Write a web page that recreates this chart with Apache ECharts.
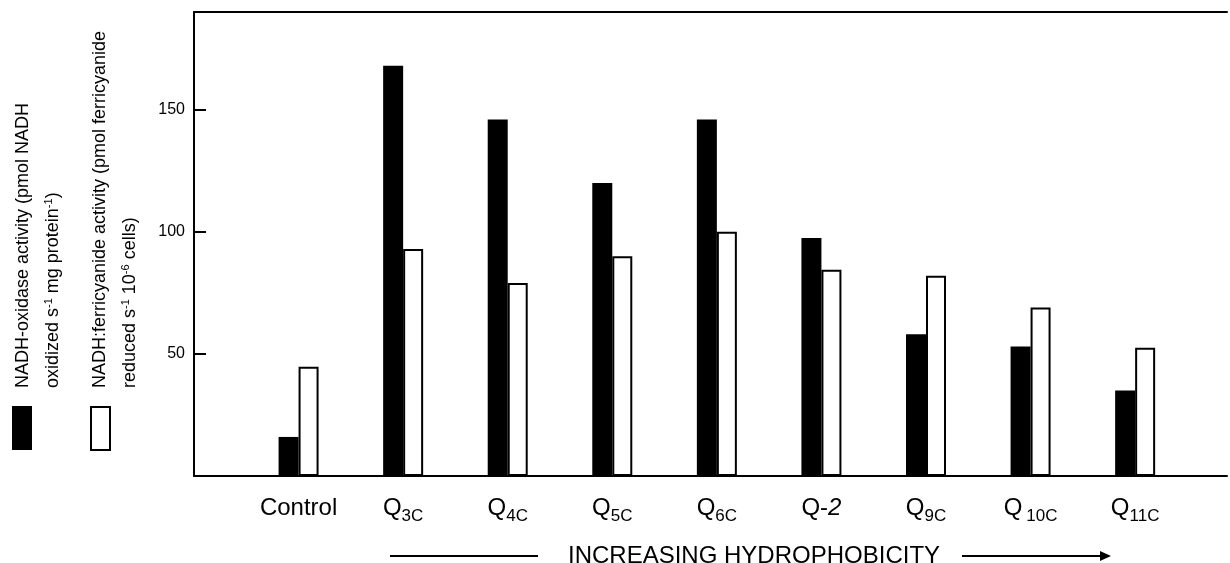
<!DOCTYPE html>
<html>
<head>
<meta charset="utf-8">
<script src="https://cdn.jsdelivr.net/npm/echarts@6/dist/echarts.min.js"></script>
<style>
html,body{margin:0;padding:0;background:#fff;}
#c{width:1230px;height:563px;}
</style>
</head>
<body>
<div id="c"></div>
<script>
// ---- data ----
var categories = ['Control', 'Q3C', 'Q4C', 'Q5C', 'Q6C', 'Q-2', 'Q9C', 'Q10C', 'Q11C'];
var oxidase = [16, 168, 146, 120, 146, 97.5, 58, 53, 35];       // NADH-oxidase activity
var ferricyanide = [44.7, 93, 79, 90, 100, 84.5, 82, 69, 52.5]; // NADH:ferricyanide activity
var yTicks = [50, 100, 150];

var FONT = '"Liberation Sans", Arial, Helvetica, sans-serif';

function catLabel(name) {
  if (name === 'Q-2') return '{m|Q-}{it|2}';
  if (name === 'Q10C') return '{m|Q}{sw|10C}';
  var m = /^Q(\d+C)$/.exec(name);
  if (m) return '{m|Q}{s|' + m[1] + '}';
  return '{m|' + name + '}';
}

var xMax = (1230 - 194) / 104.875;

var chart = echarts.init(document.getElementById('c'));
chart.setOption({
  animation: false,
  backgroundColor: '#fff',
  grid: { left: 194, right: 0, top: 12, bottom: 87, containLabel: false },
  xAxis: [{
    type: 'value',
    min: 0, max: xMax, interval: 1,
    position: 'bottom',
    axisLine: { show: true, lineStyle: { color: '#000', width: 2 } },
    axisTick: { show: false },
    splitLine: { show: false },
    axisLabel: {
      show: true,
      margin: 20,
      verticalAlign: 'top',
      showMinLabel: true, showMaxLabel: true,
      formatter: function (v) {
        var i = Math.round(v) - 1;
        if (Math.abs(v - Math.round(v)) > 1e-6 || i < 0 || i >= categories.length) return '';
        return catLabel(categories[i]);
      },
      rich: {
        m: { fontFamily: FONT, fontSize: 24, color: '#000', lineHeight: 24, verticalAlign: 'top' },
        it: { fontFamily: FONT, fontSize: 24, fontStyle: 'italic', color: '#000', lineHeight: 24, verticalAlign: 'top' },
        s: { fontFamily: FONT, fontSize: 17, color: '#000', lineHeight: 17, verticalAlign: 'top', padding: [12, 0, 0, 0] },
        sw: { fontFamily: FONT, fontSize: 17, color: '#000', lineHeight: 17, verticalAlign: 'top', padding: [12, 0, 0, 4] }
      }
    }
  }, {
    type: 'value',
    min: 0, max: xMax,
    position: 'top',
    axisLine: { show: true, lineStyle: { color: '#000', width: 2 } },
    axisTick: { show: false },
    axisLabel: { show: false },
    splitLine: { show: false }
  }],
  yAxis: {
    type: 'value',
    min: 0, max: 190, interval: 50,
    axisLine: { show: true, lineStyle: { color: '#000', width: 2 } },
    axisTick: { show: true, inside: true, length: 12, lineStyle: { color: '#000', width: 2 }, customValues: yTicks },
    splitLine: { show: false },
    axisLabel: {
      margin: 9,
      color: '#000',
      fontFamily: FONT,
      fontSize: 16,
      customValues: yTicks,
      formatter: function (v) { return yTicks.indexOf(v) >= 0 ? String(v) : ''; }
    }
  },
  series: [{
    name: 'NADH-oxidase activity',
    type: 'bar',
    xAxisIndex: 0,
    barWidth: 20,
    barGap: '0%',
    itemStyle: { color: '#000' },
    data: oxidase.map(function (v, i) { return [i + 1, v]; })
  }, {
    name: 'NADH:ferricyanide activity',
    type: 'bar',
    xAxisIndex: 0,
    barWidth: 20,
    barGap: '0%',
    itemStyle: { color: '#fff', borderColor: '#000', borderWidth: 2 },
    data: ferricyanide.map(function (v, i) { return [i + 1, v]; })
  }],
  graphic: [
    { type: 'rect', shape: { x: 12, y: 406, width: 20, height: 44 }, style: { fill: '#000' } },
    { type: 'rect', shape: { x: 91, y: 407, width: 19, height: 43 }, style: { fill: '#fff', stroke: '#000', lineWidth: 2 } },
    {
      type: 'text', x: 38, y: 388, rotation: Math.PI / 2,
      style: {
        text: 'NADH-oxidase activity (pmol NADH\noxidized s{sup|-1} mg protein{sup|-1})',
        font: '18px ' + FONT, fill: '#000', align: 'left', verticalAlign: 'middle', lineHeight: 30,
        rich: { sup: { fontFamily: FONT, fontSize: 11, fill: '#000', verticalAlign: 'top', lineHeight: 11, padding: [5, 0, 0, 0] } }
      }
    },
    {
      type: 'text', x: 115, y: 388, rotation: Math.PI / 2,
      style: {
        text: 'NADH:ferricyanide activity (pmol ferricyanide\nreduced s{sup|-1} 10{sup|-6} cells)',
        font: '18px ' + FONT, fill: '#000', align: 'left', verticalAlign: 'middle', lineHeight: 30,
        rich: { sup: { fontFamily: FONT, fontSize: 11, fill: '#000', verticalAlign: 'top', lineHeight: 11, padding: [5, 0, 0, 0] } }
      }
    },
    { type: 'line', shape: { x1: 390, y1: 556, x2: 538, y2: 556 }, style: { stroke: '#000', lineWidth: 2 } },
    {
      type: 'text', x: 568, y: 556,
      style: { text: 'INCREASING HYDROPHOBICITY', font: '24px ' + FONT, fill: '#000', align: 'left', verticalAlign: 'middle' }
    },
    { type: 'line', shape: { x1: 962, y1: 556, x2: 1102, y2: 556 }, style: { stroke: '#000', lineWidth: 2 } },
    { type: 'polygon', shape: { points: [[1100, 551], [1111, 556], [1100, 561]] }, style: { fill: '#000' } }
  ]
});
</script>
</body>
</html>
